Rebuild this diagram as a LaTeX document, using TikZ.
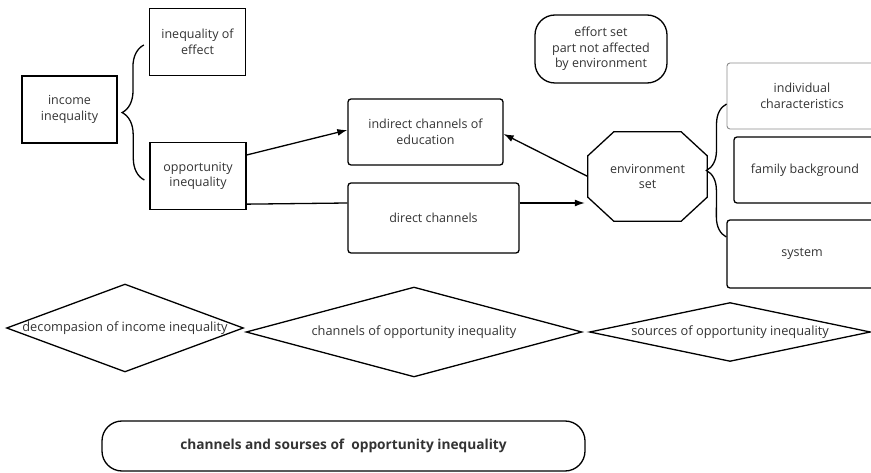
\documentclass[tikz,border=0pt]{standalone}
\usepackage{fontspec}
\setmainfont{Open Sans}
\usetikzlibrary{arrows.meta,decorations.pathreplacing}

\begin{document}
\begin{tikzpicture}[x=1pt,y=-1pt,
  box/.style={draw,line width=1.3pt,align=center,text=black!80,inner sep=2pt,
    font=\fontsize{12.5}{15.5}\selectfont},
  rbox/.style={box,rounded corners=3pt},
  flat/.style={align=center,text=black!80,inner sep=0pt,font=\fontsize{12.8}{15.5}\selectfont},
  link/.style={line width=1.3pt},
  arr/.style={link,-{Latex[length=10pt,width=7pt]}},
  curly/.style={link,decorate,decoration={brace,amplitude=#1}}]
  \clip (0,0) rectangle (871,473);

  % income inequality and its two parts
  \node[box,minimum width=95pt,minimum height=67pt] (income) at (69.5,109.5) {income\\inequality};
  \node[box,minimum width=96pt,minimum height=67pt] (effect) at (197.5,42) {inequality of\\effect};
  \node[box,minimum width=96pt,minimum height=67pt] (opp) at (198,176) {opportunity\\inequality};
  \draw[curly=22pt] ([xshift=-5pt,yshift=-4pt]opp.west) -- ([xshift=-5pt,yshift=-3pt]effect.west);

  % channels
  \node[rbox,minimum width=155pt,minimum height=66pt] (indirect) at (425.5,132) {indirect channels of\\education};
  \node[rbox,minimum width=171pt,minimum height=70pt] (direct) at (433.5,218) {direct channels};

  % effort set
  \node[box,rounded corners=20pt,minimum width=132pt,minimum height=68pt] (effort) at (601,49) {effort set\\part not affected\\by environment};

  % environment set (octagon)
  \node[flat,font=\fontsize{12.5}{15.5}\selectfont,minimum width=119pt,minimum height=89pt] (env) at (647.5,176.5) {environment\\set};
  \draw[link] ([xshift=26pt]env.north west) -- ([xshift=-26pt]env.north east)
    -- ([yshift=-24pt]env.north east) -- ([yshift=24pt]env.south east)
    -- ([xshift=-26pt]env.south east) -- ([xshift=26pt]env.south west)
    -- ([yshift=24pt]env.south west) -- ([yshift=-24pt]env.north west) -- cycle;

  % sources
  \node[rbox,draw=black!45,line width=0.9pt,minimum width=150pt,minimum height=66pt] (indiv) at (802,96) {individual\\characteristics};
  \node[rbox,minimum width=142pt,minimum height=66pt] (family) at (805,170) {family background};
  \node[rbox,minimum width=150pt,minimum height=68pt] (system) at (802,254) {system};
  \draw[curly=20pt] ([yshift=17pt]system.west) -- ([yshift=-8pt]indiv.west);

  % connectors
  \coordinate (dirout) at ([yshift=15pt]direct.east);
  \draw[arr] ([yshift=21pt]opp.east) -- ([yshift=2pt]indirect.west);
  \draw[link] ([yshift=6pt]opp.south east) -- ([yshift=15pt]direct.west);
  \draw[arr,shorten >=3pt] (dirout) -- (dirout -| env.west);
  \draw[arr] (env.west) -- ([yshift=-2pt]indirect.east);

  % bottom row
  \node[flat,minimum width=236pt,minimum height=87pt] (decomp) at (125,328) {decompasion of income inequality};
  \node[flat,minimum width=335pt,minimum height=89pt] (chan) at (414,332) {channels of opportunity inequality};
  \node[flat,minimum width=280pt,minimum height=58pt] (src) at (730,332) {sources of opportunity inequality};
  \foreach \d in {decomp,chan,src}
    \draw[link] (\d.north) -- (\d.east) -- (\d.south) -- (\d.west) -- cycle;

  \node[box,rounded corners=20pt,minimum width=483pt,minimum height=50pt,
    font=\bfseries\fontsize{13.7}{16}\selectfont] (title) at (343.5,446) {channels and sourses of\ \ opportunity inequality};
\end{tikzpicture}
\end{document}
